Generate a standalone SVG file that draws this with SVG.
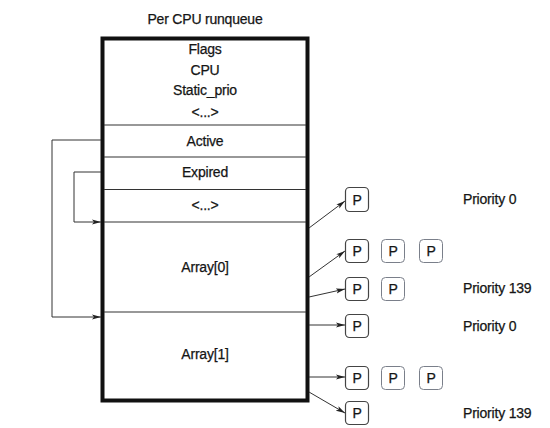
<svg xmlns="http://www.w3.org/2000/svg" width="550" height="428" viewBox="0 0 550 428">
<style>
text{font-family:"Liberation Sans",Arial,sans-serif;font-size:14px;fill:#151515;stroke:#151515;stroke-width:0.25;text-anchor:middle;letter-spacing:-0.2px}
.lbl{text-anchor:start}
.div{stroke:#333;stroke-width:1.2;fill:none}
.con{stroke:#333;stroke-width:1;fill:none;marker-end:url(#ah)}
.p1{fill:#fff;stroke:#444;stroke-width:1.2}
.p2{fill:#fff;stroke:#7a7f8a;stroke-width:1}
</style>
<defs>
<marker id="ah" markerWidth="10" markerHeight="6" refX="9" refY="3" orient="auto" markerUnits="userSpaceOnUse">
<path d="M0,0.5 L9,3 L0,5.5 L2,3 Z" fill="#222"/>
</marker>
</defs>
<rect width="550" height="428" fill="#fff"/>
<text x="205" y="24">Per CPU runqueue</text>
<g id="runqueue">
<rect x="102.5" y="38.5" width="205" height="362" fill="#fff" stroke="#111" stroke-width="4"/>
<line class="div" x1="104" y1="125" x2="306" y2="125"/>
<line class="div" x1="104" y1="157" x2="306" y2="157"/>
<line class="div" x1="104" y1="189.5" x2="306" y2="189.5"/>
<line class="div" x1="104" y1="222" x2="306" y2="222"/>
<line class="div" x1="104" y1="312" x2="306" y2="312"/>
<text x="205" y="54">Flags</text>
<text x="205" y="75">CPU</text>
<text x="205" y="95">Static_prio</text>
<text x="205" y="117">&lt;...&gt;</text>
<text x="205" y="146">Active</text>
<text x="205" y="177">Expired</text>
<text x="205" y="210">&lt;...&gt;</text>
<text x="205" y="272">Array[0]</text>
<text x="205" y="359">Array[1]</text>
</g>
<g id="connectors">
<polyline class="con" points="101,140 52,140 52,317 101,317"/>
<polyline class="con" points="101,172 74,172 74,222 101,222"/>
<line class="con" x1="309" y1="228" x2="345" y2="201"/>
<line class="con" x1="309" y1="277" x2="345" y2="251"/>
<line class="con" x1="309" y1="297" x2="345" y2="289"/>
<line class="con" x1="309" y1="325" x2="345" y2="325"/>
<line class="con" x1="309" y1="377" x2="345" y2="377"/>
<line class="con" x1="309" y1="392" x2="345" y2="413"/>
</g>
<g id="p-row1">
<rect class="p1" x="345.5" y="187.5" width="23" height="24" rx="4"/>
<text x="357" y="204.5">P</text>
</g>
<g id="p-row2">
<rect class="p1" x="345.5" y="239.5" width="23" height="23" rx="4"/>
<text x="357" y="256">P</text>
<rect class="p2" x="381.5" y="239.5" width="23" height="23" rx="4"/>
<text x="393" y="256">P</text>
<rect class="p2" x="419.5" y="239.5" width="23" height="23" rx="4"/>
<text x="431" y="256">P</text>
</g>
<g id="p-row3">
<rect class="p1" x="345.5" y="277.5" width="23" height="23" rx="4"/>
<text x="357" y="294">P</text>
<rect class="p2" x="381.5" y="277.5" width="23" height="23" rx="4"/>
<text x="393" y="294">P</text>
</g>
<g id="p-row4">
<rect class="p1" x="345.5" y="314.5" width="23" height="23" rx="4"/>
<text x="357" y="331">P</text>
</g>
<g id="p-row5">
<rect class="p1" x="345.5" y="366.5" width="23" height="23" rx="4"/>
<text x="357" y="383">P</text>
<rect class="p2" x="381.5" y="366.5" width="23" height="23" rx="4"/>
<text x="393" y="383">P</text>
<rect class="p2" x="419.5" y="366.5" width="23" height="23" rx="4"/>
<text x="431" y="383">P</text>
</g>
<g id="p-row6">
<rect class="p1" x="345.5" y="401.5" width="23" height="23" rx="4"/>
<text x="357" y="418">P</text>
</g>
<g id="priority-labels">
<text class="lbl" x="463" y="204">Priority 0</text>
<text class="lbl" x="463" y="293">Priority 139</text>
<text class="lbl" x="463" y="331">Priority 0</text>
<text class="lbl" x="463" y="418">Priority 139</text>
</g>
</svg>
